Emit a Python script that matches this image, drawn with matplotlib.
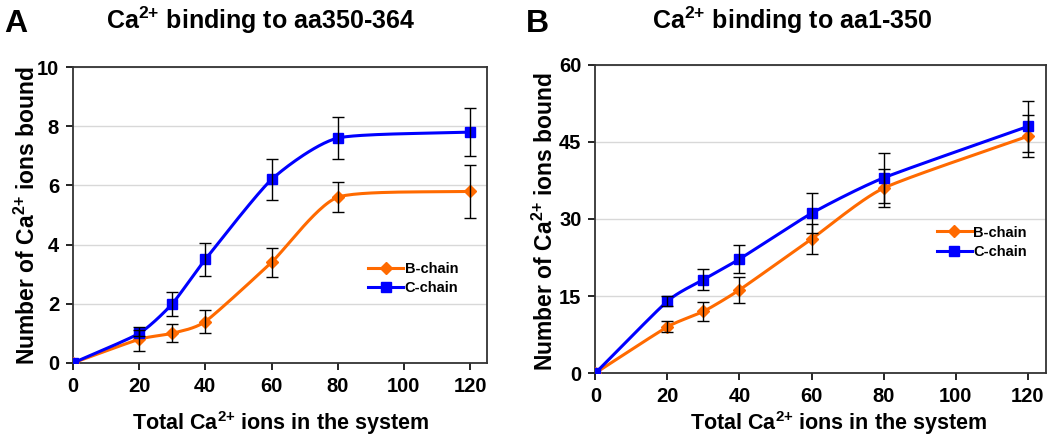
import numpy as np
import matplotlib
matplotlib.use("Agg")
import matplotlib.pyplot as plt
from matplotlib.lines import Line2D

plt.rcParams["font.family"] = ["Liberation Sans", "DejaVu Sans"]
plt.rcParams["font.weight"] = "bold"
plt.rcParams["mathtext.fontset"] = "custom"
plt.rcParams["mathtext.rm"] = "Liberation Sans:bold"
plt.rcParams["mathtext.bf"] = "Liberation Sans:bold"
plt.rcParams["mathtext.default"] = "bf"

# data
total_ca = [0, 20, 30, 40, 60, 80, 120]

a_bchain = [0, 0.8, 1.0, 1.4, 3.4, 5.6, 5.8]
a_bchain_err = [0, 0.4, 0.3, 0.4, 0.5, 0.5, 0.9]
a_cchain = [0, 1.0, 2.0, 3.5, 6.2, 7.6, 7.8]
a_cchain_err = [0, 0.1, 0.4, 0.55, 0.7, 0.7, 0.8]

b_bchain = [0, 9.0, 12.0, 16.2, 26.1, 36.0, 46.1]
b_bchain_err = [0, 1.1, 1.9, 2.5, 3.0, 3.7, 4.1]
b_cchain = [0, 14.0, 18.2, 22.2, 31.1, 38.0, 48.0]
b_cchain_err = [0, 1.0, 2.1, 2.8, 3.9, 4.9, 4.9]

ORANGE = "#FF6A00"
BLUE = "#0000FF"
CA = "Ca$^{2{+}}$"


def smooth(x, y, n=30):
    # catmull-rom style smoothing like excel's "smoothed line"
    x = np.asarray(x, float)
    y = np.asarray(y, float)
    px = np.concatenate([[2 * x[0] - x[1]], x, [2 * x[-1] - x[-2]]])
    py = np.concatenate([[2 * y[0] - y[1]], y, [2 * y[-1] - y[-2]]])
    xs, ys = [], []
    t = np.linspace(0, 1, n)
    for i in range(1, len(px) - 2):
        p0, p1, p2, p3 = [np.array([px[j], py[j]]) for j in range(i - 1, i + 3)]
        m1 = (p2 - p0) / 2 * 0.6
        m2 = (p3 - p1) / 2 * 0.6
        h00 = 2 * t**3 - 3 * t**2 + 1
        h10 = t**3 - 2 * t**2 + t
        h01 = -2 * t**3 + 3 * t**2
        h11 = t**3 - t**2
        pts = np.outer(h00, p1) + np.outer(h10, m1) + np.outer(h01, p2) + np.outer(h11, m2)
        xs.extend(pts[:, 0])
        ys.extend(pts[:, 1])
    return xs, ys


def panel(ax, bvals, berr, cvals, cerr, ymax, yticks, legend_pos):
    for vals, err, col, mk, ms in [(bvals, berr, ORANGE, "D", 6.5), (cvals, cerr, BLUE, "s", 7.5)]:
        sx, sy = smooth(total_ca, vals)
        ax.plot(sx, sy, color=col, lw=2.2, zorder=3)
        ax.plot(total_ca, vals, ls="none", marker=mk, ms=ms, color=col, zorder=4)
        ax.errorbar(total_ca[1:], vals[1:], yerr=err[1:], fmt="none", ecolor="black",
                    elinewidth=1.0, capsize=4, capthick=1.0, zorder=5)
    ax.set_xlim(0, 125)
    ax.set_ylim(0, ymax)
    ax.set_xticks([0, 20, 40, 60, 80, 100, 120])
    ax.set_yticks(yticks)
    ax.yaxis.grid(True, color="#d8d8d8", lw=1.0)
    ax.set_axisbelow(True)
    for s in ax.spines.values():
        s.set_color("#333333")
        s.set_linewidth(1.3)
    ax.tick_params(direction="out", length=5, width=1.2, labelsize=14.5, pad=5)
    for lab in ax.get_xticklabels() + ax.get_yticklabels():
        lab.set_fontweight("bold")
    handles = [
        Line2D([], [], color=ORANGE, lw=2.2, marker="D", ms=6.5),
        Line2D([], [], color=BLUE, lw=2.2, marker="s", ms=7.5),
    ]
    ax.legend(handles, ["B-chain", "C-chain"], loc="center left", bbox_to_anchor=legend_pos,
              frameon=False, handlelength=2.4, handletextpad=0.1, labelspacing=0.35,
              prop={"size": 10.5, "weight": "bold"}, borderaxespad=0)


fig = plt.figure(figsize=(10.5, 4.41), dpi=100)
ax1 = fig.add_axes([0.0695, 0.177, 0.394, 0.671])
ax2 = fig.add_axes([0.567, 0.154, 0.429, 0.699])

panel(ax1, a_bchain, a_bchain_err, a_cchain, a_cchain_err, 10, [0, 2, 4, 6, 8, 10], (0.70, 0.285))
panel(ax2, b_bchain, b_bchain_err, b_cchain, b_cchain_err, 60, [0, 15, 30, 45, 60], (0.745, 0.425))

fig.text(0.248, 0.955, CA + " binding to aa350-364", ha="center", va="center", fontsize=18, fontweight="bold")
fig.text(0.754, 0.955, CA + " binding to aa1-350", ha="center", va="center", fontsize=18, fontweight="bold")
fig.text(0.004, 0.945, "A", ha="left", va="center", fontsize=23, fontweight="bold")
fig.text(0.501, 0.945, "B", ha="left", va="center", fontsize=23, fontweight="bold")

fig.text(0.267, 0.04, "Total " + CA + " ions in the system", ha="center", va="center", fontsize=15.5, fontweight="bold")
fig.text(0.799, 0.04, "Total " + CA + " ions in the system", ha="center", va="center", fontsize=15.5, fontweight="bold")
fig.text(0.026, 0.512, "Number of " + CA + " ions bound", ha="center", va="center", rotation=90, fontsize=16.5, fontweight="bold")
fig.text(0.519, 0.497, "Number of " + CA + " ions bound", ha="center", va="center", rotation=90, fontsize=16.5, fontweight="bold")

fig.savefig("out.png", dpi=100)
